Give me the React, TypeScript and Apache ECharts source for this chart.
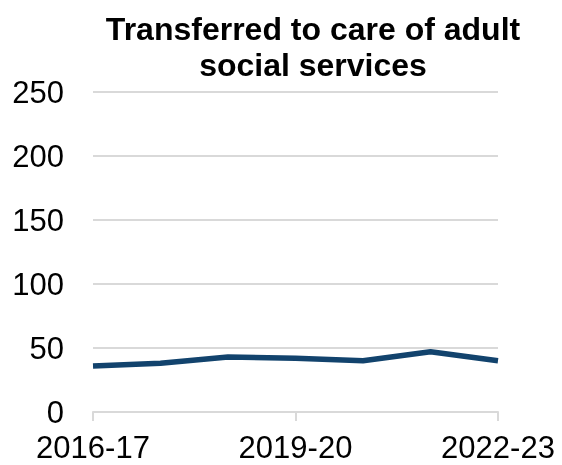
import React, { useEffect, useRef } from "react";
import * as echarts from "echarts";

const categories = ["2016-17", "2017-18", "2018-19", "2019-20", "2020-21", "2021-22", "2022-23"];
const values = [36, 38, 43, 42, 40, 47, 40];
const titleText = "Transferred to care of adult\nsocial services";

const FONT = "Liberation Sans, Arial, sans-serif";

export default function App() {
  const ref = useRef<HTMLDivElement>(null);
  useEffect(() => {
    if (!ref.current) return;
    const chart = echarts.init(ref.current, null, { renderer: "svg" });
    chart.setOption({
      animation: false,
      title: {
        text: titleText,
        left: 308,
        textAlign: "center",
        top: 6,
        textStyle: {
          fontFamily: FONT,
          fontWeight: "bold",
          fontSize: 32,
          lineHeight: 36,
          color: "#000",
        },
      },
      grid: { left: 93, right: 64, top: 92, bottom: 53, containLabel: false },
      xAxis: {
        type: "category",
        data: categories,
        boundaryGap: false,
        axisLine: { lineStyle: { color: "#d9d9d9", width: 2 } },
        axisTick: { show: true, interval: 2, length: 9, lineStyle: { color: "#d9d9d9", width: 2 } },
        axisLabel: {
          interval: 2,
          margin: 20,
          lineHeight: 31,
          fontFamily: FONT,
          fontSize: 31,
          color: "#000",
        },
        splitLine: { show: false },
      },
      yAxis: {
        type: "value",
        min: 0,
        max: 250,
        interval: 50,
        axisLine: { show: false },
        axisTick: { show: false },
        axisLabel: {
          margin: 29,
          fontFamily: FONT,
          fontSize: 31,
          color: "#000",
        },
        splitLine: { lineStyle: { color: "#d9d9d9", width: 2 } },
      },
      series: [
        {
          type: "line",
          data: values,
          symbol: "none",
          lineStyle: { color: "#12436D", width: 5.5 },
        },
      ],
    });
    return () => chart.dispose();
  }, []);
  return <div ref={ref} style={{ position: "fixed", left: 0, top: 0, width: 562, height: 465 }} />;
}
